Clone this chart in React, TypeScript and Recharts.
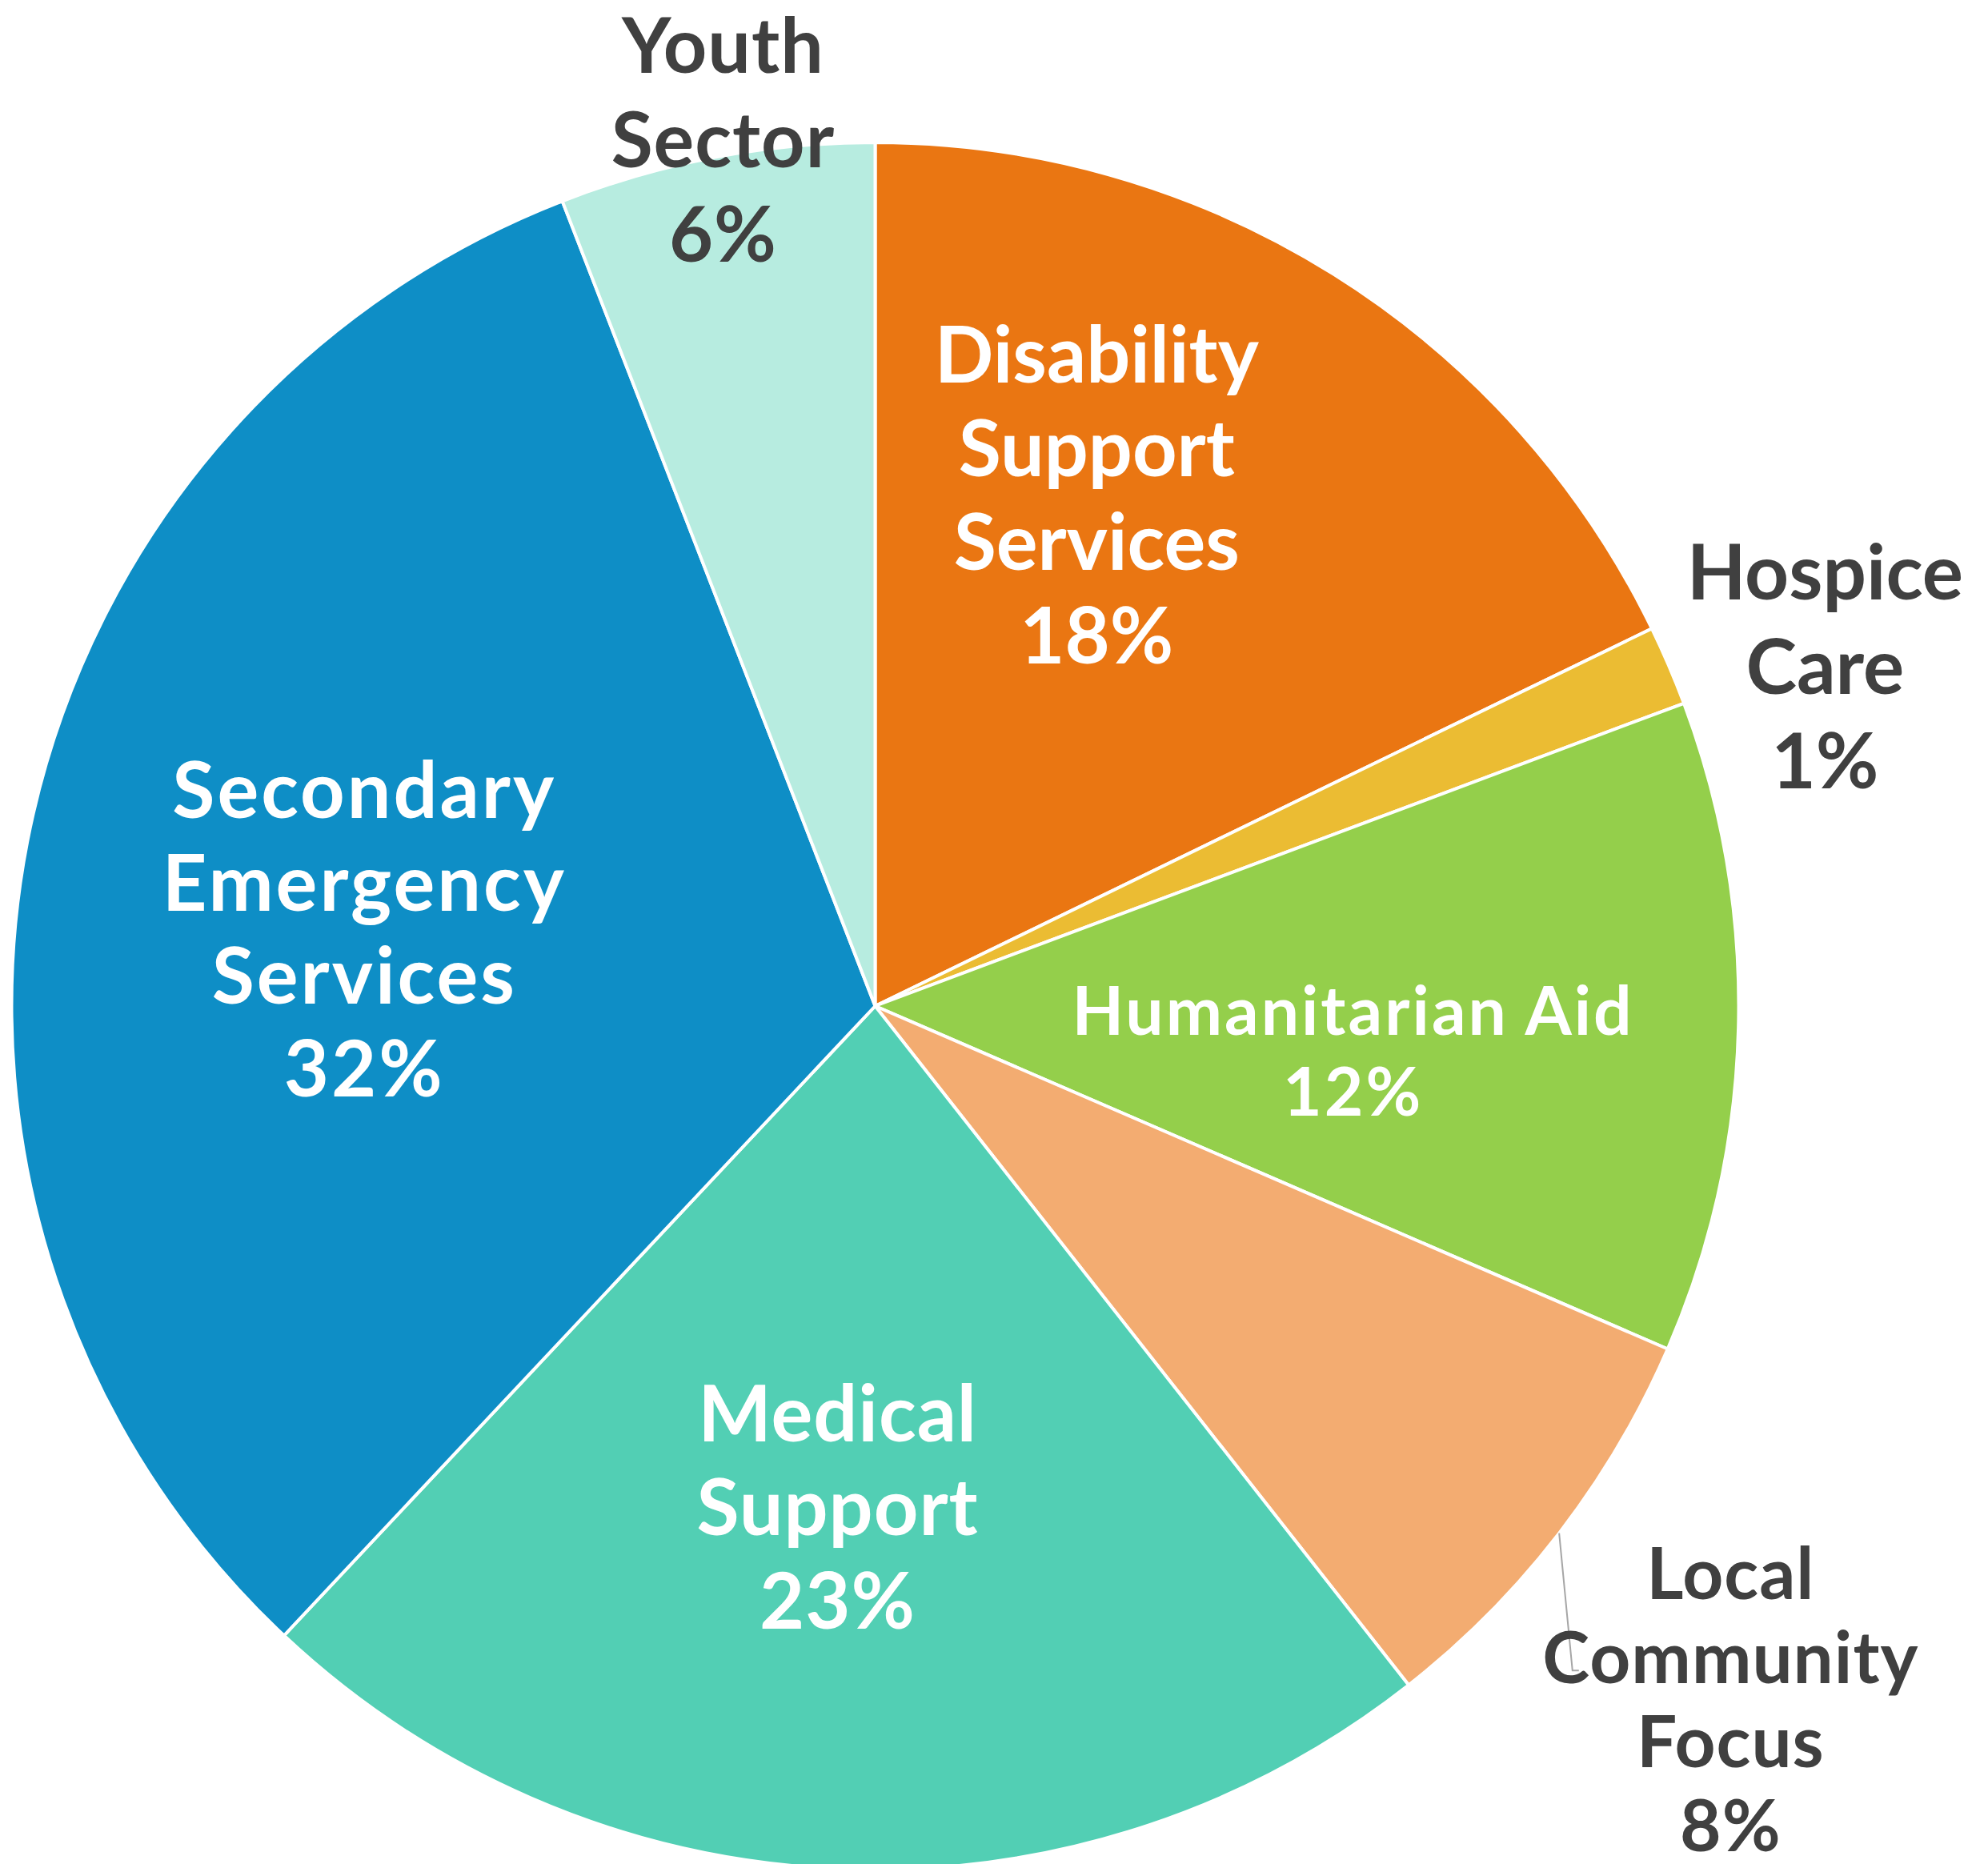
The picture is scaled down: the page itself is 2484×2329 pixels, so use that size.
import { PieChart, Pie, Cell } from "recharts";

const CATEGORIES = [
  "Disability Support Services",
  "Hospice Care",
  "Humanitarian Aid",
  "Local Community Focus",
  "Medical Support",
  "Secondary Emergency Services",
  "Youth Sector",
];

// share of total
const VALUES = [17.8, 1.5, 12.2, 7.9, 22.6, 32.1, 5.9];

// percentages as printed on the chart
const PCT_LABELS = ["18%", "1%", "12%", "8%", "23%", "32%", "6%"];

const COLORS = ["#EA7612", "#EBBC33", "#94CF4B", "#F3AC71", "#52CFB4", "#0E8EC6", "#B7ECE0"];

// label placement, in units of the pie radius from the centre (first baseline)
const LABEL_LAYOUT = [
  { fx: 0.257, fy: -0.723, size: 97, lh: 117, ls: 0, split: true, inside: true },
  { fx: 1.102, fy: -0.472, size: 96, lh: 118, ls: 0, split: true, inside: false },
  { fx: 0.553, fy: 0.033, size: 84, lh: 101, ls: 3, split: false, inside: true },
  { fx: 0.992, fy: 0.688, size: 89, lh: 105, ls: 1, split: true, inside: false, line: { fx: 0.809, fy: 0.771 } },
  { fx: -0.044, fy: 0.505, size: 97, lh: 117, ls: 1, split: true, inside: true },
  { fx: -0.594, fy: -0.218, size: 97, lh: 116, ls: 3, split: true, inside: true },
  { fx: -0.177, fy: -1.083, size: 95, lh: 118, ls: 1, split: true, inside: false },
];

const data = CATEGORIES.map((name, i) => ({ name, value: VALUES[i] }));

const RAD = Math.PI / 180;

const renderLabel = (props: any) => {
  const { cx, cy, outerRadius, midAngle, index } = props;
  const r = 1077;
  const cfg = LABEL_LAYOUT[index];
  const x = cx + r * cfg.fx;
  const y0 = cy + r * cfg.fy;
  const lines = cfg.split ? CATEGORIES[index].split(" ") : [CATEGORIES[index]];
  lines.push(PCT_LABELS[index]);
  let leader = null;
  if (cfg.line) {
    const sx = cx + outerRadius * Math.cos(-midAngle * RAD);
    const sy = cy + outerRadius * Math.sin(-midAngle * RAD);
    const ex = cx + r * cfg.line.fx;
    const ey = cy + r * cfg.line.fy;
    leader = (
      <polyline
        points={`${sx},${sy} ${ex},${ey} ${ex + 8},${ey}`}
        fill="none"
        stroke="#A6A6A6"
        strokeWidth={2}
      />
    );
  }
  return (
    <g key={`lbl-${index}`}>
      {leader}
      <text
        x={x}
        y={y0}
        textAnchor="middle"
        fill={cfg.inside ? "#FFFFFF" : "#404040"}
        fontFamily="Lato, 'DejaVu Sans', sans-serif"
        fontWeight={700}
        fontSize={cfg.size}
        letterSpacing={cfg.ls}
      >
        {lines.map((t, i) => (
          <tspan key={i} x={x + cfg.ls / 2} y={y0 + i * cfg.lh}>
            {t}
          </tspan>
        ))}
      </text>
    </g>
  );
};

export default function App() {
  return (
    <div style={{ position: "absolute", left: 0, top: 0, width: 2484, height: 2329, background: "#FFFFFF" }}>
      <PieChart width={2484} height={2329} margin={{ top: 0, right: 0, bottom: 0, left: 0 }}>
        <Pie
          data={data}
          dataKey="value"
          nameKey="name"
          cx={1093.5}
          cy={1257}
          innerRadius={0}
          outerRadius={1079}
          startAngle={90}
          endAngle={-270}
          stroke="#FFFFFF"
          strokeWidth={4}
          label={renderLabel}
          labelLine={false}
          isAnimationActive={false}
        >
          {data.map((d, i) => (
            <Cell key={d.name} fill={COLORS[i]} />
          ))}
        </Pie>
      </PieChart>
    </div>
  );
}
